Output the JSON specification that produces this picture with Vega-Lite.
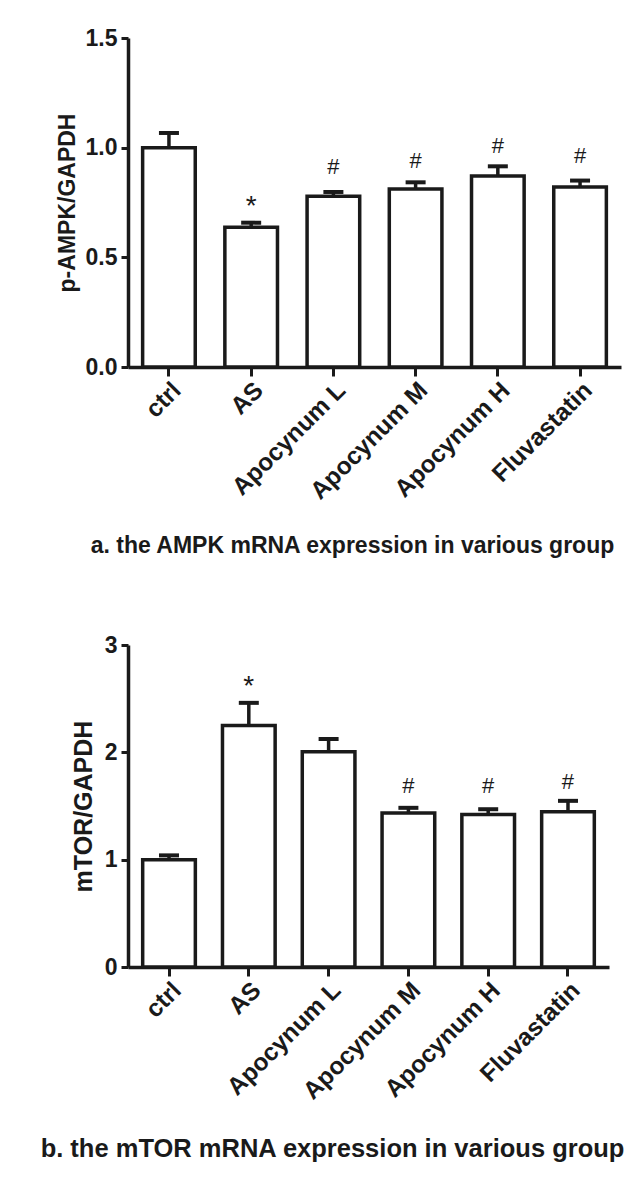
{
  "$schema": "https://vega.github.io/schema/vega-lite/v6.json",
  "background": "white",
  "padding": {"left": 39, "top": 27, "right": 0, "bottom": 0},
  "bounds": "flush",
  "spacing": 278,
  "datasets": {
    "ampk": [
      {"group": "ctrl", "value": 1.0, "upper": 1.067},
      {"group": "AS", "value": 0.637, "upper": 0.658},
      {"group": "Apocynum L", "value": 0.778, "upper": 0.798},
      {"group": "Apocynum M", "value": 0.811, "upper": 0.842},
      {"group": "Apocynum H", "value": 0.871, "upper": 0.915},
      {"group": "Fluvastatin", "value": 0.821, "upper": 0.85}
    ],
    "ampk_star": [
      {"group": "AS", "sig": "*", "pos": 0.73}
    ],
    "ampk_hash": [
      {"group": "Apocynum L", "sig": "#", "pos": 0.912},
      {"group": "Apocynum M", "sig": "#", "pos": 0.939},
      {"group": "Apocynum H", "sig": "#", "pos": 1.006},
      {"group": "Fluvastatin", "sig": "#", "pos": 0.962}
    ],
    "mtor": [
      {"group": "ctrl", "value": 1.0, "upper": 1.04},
      {"group": "AS", "value": 2.25, "upper": 2.461},
      {"group": "Apocynum L", "value": 2.006, "upper": 2.124},
      {"group": "Apocynum M", "value": 1.434, "upper": 1.483},
      {"group": "Apocynum H", "value": 1.421, "upper": 1.47},
      {"group": "Fluvastatin", "value": 1.446, "upper": 1.548}
    ],
    "mtor_star": [
      {"group": "AS", "sig": "*", "pos": 2.607}
    ],
    "mtor_hash": [
      {"group": "Apocynum M", "sig": "#", "pos": 1.688},
      {"group": "Apocynum H", "sig": "#", "pos": 1.688},
      {"group": "Fluvastatin", "sig": "#", "pos": 1.725}
    ]
  },
  "config": {
    "view": {"stroke": null},
    "font": "Liberation Sans",
    "axis": {
      "grid": false,
      "domainColor": "#1a1a1a",
      "domainWidth": 3.5,
      "tickColor": "#1a1a1a",
      "tickWidth": 3,
      "labelFont": "Liberation Sans",
      "labelFontWeight": "bold",
      "labelColor": "#1a1a1a",
      "titleFont": "Liberation Sans",
      "titleFontWeight": "bold",
      "titleColor": "#1a1a1a"
    }
  },
  "vconcat": [
    {
      "width": 493,
      "height": 329,
      "layer": [
        {
          "data": {"name": "ampk"},
          "mark": {"type": "bar", "fill": "white", "stroke": "#1a1a1a", "strokeWidth": 3.5},
          "encoding": {
            "x": {
              "field": "group", "type": "nominal", "sort": null,
              "scale": {"paddingInner": 0.36, "paddingOuter": 0.178},
              "axis": {
                "title": "a. the AMPK mRNA expression in various group",
                "titleFontSize": 23,
                "titleX": 224,
                "titleAlign": "center",
                "titlePadding": 31,
                "labelAngle": -45,
                "labelAlign": "right",
                "labelBaseline": "top",
                "labelFontSize": 24.5,
                "labelPadding": 2,
                "tickSize": 9
              }
            },
            "y": {
              "field": "value", "type": "quantitative",
              "scale": {"domain": [0, 1.5], "nice": false},
              "axis": {
                "title": "p-AMPK/GAPDH",
                "titleFontSize": 23,
                "titlePadding": 6,
                "values": [0, 0.5, 1.0, 1.5],
                "format": ".1f",
                "labelFontSize": 23,
                "labelPadding": 4,
                "tickSize": 7
              }
            }
          }
        },
        {
          "data": {"name": "ampk"},
          "mark": {"type": "rule", "stroke": "#1a1a1a", "strokeWidth": 3.5},
          "encoding": {
            "x": {"field": "group", "type": "nominal", "sort": null},
            "y": {"field": "value", "type": "quantitative"},
            "y2": {"field": "upper"}
          }
        },
        {
          "data": {"name": "ampk"},
          "mark": {"type": "tick", "color": "#1a1a1a", "size": 20, "thickness": 4, "opacity": 1},
          "encoding": {
            "x": {"field": "group", "type": "nominal", "sort": null},
            "y": {"field": "upper", "type": "quantitative"}
          }
        },
        {
          "data": {"name": "ampk_star"},
          "mark": {"type": "text", "fontSize": 28, "color": "#1a1a1a", "baseline": "middle", "align": "center"},
          "encoding": {
            "x": {"field": "group", "type": "nominal", "sort": null},
            "y": {"field": "pos", "type": "quantitative"},
            "text": {"field": "sig"}
          }
        },
        {
          "data": {"name": "ampk_hash"},
          "mark": {"type": "text", "fontSize": 22, "color": "#1a1a1a", "baseline": "middle", "align": "center"},
          "encoding": {
            "x": {"field": "group", "type": "nominal", "sort": null},
            "y": {"field": "pos", "type": "quantitative"},
            "text": {"field": "sig"}
          }
        }
      ]
    },
    {
      "width": 481,
      "height": 322,
      "layer": [
        {
          "data": {"name": "mtor"},
          "mark": {"type": "bar", "fill": "white", "stroke": "#1a1a1a", "strokeWidth": 3.5},
          "encoding": {
            "x": {
              "field": "group", "type": "nominal", "sort": null,
              "scale": {"paddingInner": 0.34, "paddingOuter": 0.184},
              "axis": {
                "title": "b. the mTOR mRNA expression in various group",
                "titleFontSize": 25.5,
                "titleX": 204,
                "titleAlign": "center",
                "titlePadding": 33,
                "labelAngle": -45,
                "labelAlign": "right",
                "labelBaseline": "top",
                "labelFontSize": 24.5,
                "labelPadding": 2,
                "tickSize": 9
              }
            },
            "y": {
              "field": "value", "type": "quantitative",
              "scale": {"domain": [0, 3], "nice": false},
              "axis": {
                "title": "mTOR/GAPDH",
                "titleFontSize": 25,
                "titlePadding": 8,
                "values": [0, 1, 2, 3],
                "format": "d",
                "labelFontSize": 23,
                "labelPadding": 4,
                "tickSize": 7
              }
            }
          }
        },
        {
          "data": {"name": "mtor"},
          "mark": {"type": "rule", "stroke": "#1a1a1a", "strokeWidth": 3.5},
          "encoding": {
            "x": {"field": "group", "type": "nominal", "sort": null},
            "y": {"field": "value", "type": "quantitative"},
            "y2": {"field": "upper"}
          }
        },
        {
          "data": {"name": "mtor"},
          "mark": {"type": "tick", "color": "#1a1a1a", "size": 20, "thickness": 4, "opacity": 1},
          "encoding": {
            "x": {"field": "group", "type": "nominal", "sort": null},
            "y": {"field": "upper", "type": "quantitative"}
          }
        },
        {
          "data": {"name": "mtor_star"},
          "mark": {"type": "text", "fontSize": 28, "color": "#1a1a1a", "baseline": "middle", "align": "center"},
          "encoding": {
            "x": {"field": "group", "type": "nominal", "sort": null},
            "y": {"field": "pos", "type": "quantitative"},
            "text": {"field": "sig"}
          }
        },
        {
          "data": {"name": "mtor_hash"},
          "mark": {"type": "text", "fontSize": 22, "color": "#1a1a1a", "baseline": "middle", "align": "center"},
          "encoding": {
            "x": {"field": "group", "type": "nominal", "sort": null},
            "y": {"field": "pos", "type": "quantitative"},
            "text": {"field": "sig"}
          }
        }
      ]
    }
  ]
}
